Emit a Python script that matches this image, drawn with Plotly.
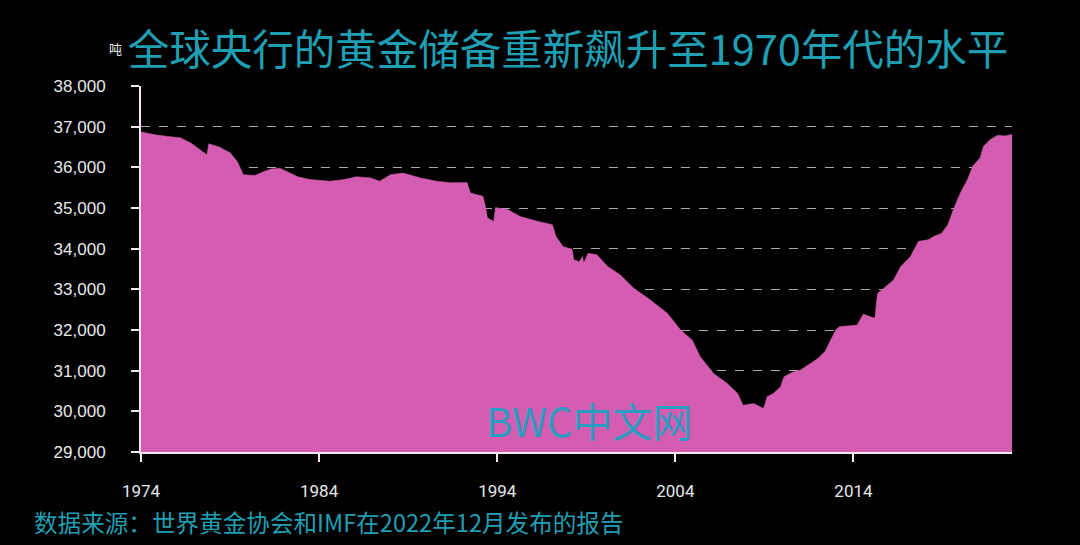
import plotly.graph_objects as go

# Central bank gold reserves (tonnes)
years = [1974.0, 1974.8, 1975.5, 1976.2, 1976.8, 1977.3, 1977.7, 1977.8, 1978.4, 1979.0,
         1979.4, 1979.75, 1980.4, 1980.9, 1981.3, 1981.8, 1982.3, 1982.8, 1983.5, 1984.6,
         1985.4, 1986.1, 1986.9, 1987.4, 1988.0, 1988.7, 1989.7, 1990.6, 1991.4, 1992.3,
         1992.5, 1993.2, 1993.35, 1993.45, 1993.8, 1993.9, 1994.6, 1995.3, 1996.3, 1997.1,
         1997.3, 1997.7, 1998.2, 1998.3, 1998.6, 1998.8, 1998.85, 1999.1, 1999.6, 2000.2,
         2000.9, 2001.65, 2002.6, 2003.55, 2004.3, 2004.95, 2005.4, 2006.15, 2006.9, 2007.5,
         2007.8, 2008.4, 2008.95, 2009.15, 2009.5, 2009.9, 2010.1, 2010.6, 2011.0, 2011.5,
         2012.0, 2012.4, 2012.7, 2013.0, 2013.2, 2014.2, 2014.55, 2015.2, 2015.35, 2015.7,
         2016.25, 2016.65, 2017.2, 2017.65, 2018.2, 2018.5, 2018.95, 2019.3, 2019.6, 2020.0,
         2020.4, 2020.7, 2021.1, 2021.3, 2021.7, 2022.1, 2022.5, 2022.9]
tonnes = [36870, 36800, 36760, 36730, 36600, 36450, 36310, 36580, 36500, 36360,
          36150, 35820, 35800, 35900, 35960, 35980, 35880, 35770, 35700, 35660,
          35700, 35770, 35740, 35660, 35820, 35860, 35740, 35660, 35620, 35630,
          35370, 35290, 35010, 34760, 34670, 35010, 34960, 34790, 34670, 34590,
          34300, 34050, 33990, 33730, 33680, 33810, 33640, 33890, 33850, 33560,
          33360, 33030, 32740, 32410, 32000, 31750, 31340, 30930, 30690, 30440,
          30150, 30190, 30070, 30360, 30440, 30600, 30850, 30970, 31010, 31150,
          31300, 31470, 31750, 32000, 32080, 32120, 32390, 32290, 32900, 33030,
          33230, 33560, 33810, 34180, 34220, 34300, 34380, 34590, 34960, 35370,
          35700, 36030, 36230, 36520, 36690, 36790, 36770, 36810]

x_ticks = [1974, 1984, 1994, 2004, 2014]
y_ticks = list(range(29000, 38001, 1000))

title_text = "全球央行的黄金储备重新飙升至1970年代的水平"
unit_text = "吨"
source_text = "数据来源：世界黄金协会和IMF在2022年12月发布的报告"
watermark_text = "BWC中文网"

FILL = "#d45db2"
TEAL = "#1f9fb3"
CJK = "Noto Sans CJK SC"

fig = go.Figure()
fig.add_trace(go.Scatter(
    x=years, y=tonnes, mode="lines", fill="tozeroy",
    fillcolor=FILL, line=dict(color=FILL, width=0.5), hoverinfo="skip"))

L, R, T, B = 141, 68, 86, 93
W, H = 1080, 545
pw, ph = W - L - R, H - T - B

fig.update_layout(
    width=W, height=H,
    margin=dict(l=L, r=R, t=T, b=B, pad=0),
    paper_bgcolor="black", plot_bgcolor="black",
    showlegend=False,
    title=dict(text=title_text, x=568 / W, xanchor="center", xref="container",
               y=1 - 50 / H, yanchor="middle", yref="container",
               font=dict(family=CJK, size=41.5, color=TEAL)),
)
fig.update_xaxes(
    range=[1974, 2022.9], tickvals=x_ticks, ticktext=[str(v) for v in x_ticks],
    showgrid=False, zeroline=False,
    showline=True, linecolor="#f4e6f2", linewidth=2,
    ticks="outside", ticklen=8, tickwidth=2, tickcolor="#f4e6f2",
    ticklabelstandoff=15,
    tickfont=dict(family="Liberation Sans Narrow, Roboto, sans-serif", size=17, color="#e8e8e8"),
)
fig.update_yaxes(
    range=[29000, 38000], tickvals=y_ticks, tickformat=",d",
    showgrid=True, gridcolor="#a8a8a8", gridwidth=1.3, griddash="dash",
    zeroline=False,
    showline=True, linecolor="#f4e6f2", linewidth=2,
    ticks="outside", ticklen=8, tickwidth=2, tickcolor="#f4e6f2",
    ticklabelstandoff=22,
    tickfont=dict(family="Liberation Sans, Arial, sans-serif", size=17, color="#e8e8e8"),
)

def px_x(px):
    return (px - L) / pw

def px_y(py):
    return (H - B - py) / ph

fig.add_annotation(text=unit_text, xref="paper", yref="paper",
                   x=px_x(115), y=px_y(48), xanchor="center", yanchor="middle",
                   showarrow=False, font=dict(family=CJK, size=13, color="#e8e8e8"))
fig.add_annotation(text=watermark_text, xref="paper", yref="paper",
                   x=px_x(589), y=px_y(420), xanchor="center", yanchor="middle",
                   showarrow=False, font=dict(family=CJK, size=40, color="#2a9cc0"))
fig.add_annotation(text=source_text, xref="paper", yref="paper",
                   x=px_x(32), y=px_y(522), xanchor="left", yanchor="middle",
                   showarrow=False, font=dict(family=CJK, size=23.6, color=TEAL))

fig.write_html("out.html", config={"displayModeBar": False},
               post_script="document.body.style.margin='0';document.body.style.background='black';")
